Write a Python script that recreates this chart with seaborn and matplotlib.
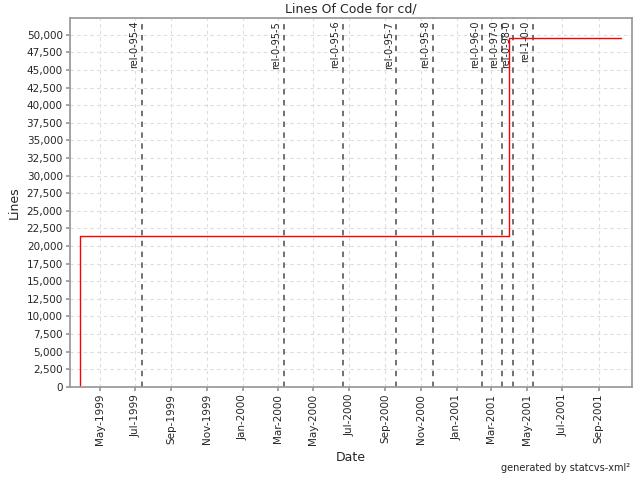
import pandas as pd
import seaborn as sns
import matplotlib
matplotlib.use("Agg")
import matplotlib.pyplot as plt
import matplotlib.dates as mdates
from matplotlib.ticker import FuncFormatter, MultipleLocator

# lines of code over time (step line)
loc_dates = ["1999-03-28", "1999-03-28", "2001-03-31", "2001-03-31", "2001-10-10"]
loc_lines = [0, 21420, 21420, 49600, 49600]

# release tags
tag_names = ["rel-0-95-4", "rel-0-95-5", "rel-0-95-6", "rel-0-95-7", "rel-0-95-8",
             "rel-0-96-0", "rel-0-97-0", "rel-0-98-0", "rel-1-0-0"]
tag_dates = ["1999-07-12", "2000-03-11", "2000-06-20", "2000-09-20", "2000-11-21",
             "2001-02-14", "2001-03-19", "2001-04-08", "2001-05-11"]

df = pd.DataFrame({"date": pd.to_datetime(loc_dates), "lines": loc_lines})

sns.set_theme(style="white")
plt.rcParams['font.family'] = ['DejaVu Sans']

fig = plt.figure(figsize=(6.4, 4.8), dpi=100)
ax = fig.add_axes([0.109, 0.194, 0.8785, 0.7685])

sns.lineplot(data=df, x="date", y="lines", estimator=None, sort=False,
             drawstyle="steps-post", color="red", linewidth=1.0, ax=ax)

for name, d in zip(tag_names, pd.to_datetime(tag_dates)):
    ax.axvline(d, color="#666666", linestyle=(0, (3, 3)), linewidth=1.3, zorder=1)
    ax.annotate(name, xy=(d, 1), xycoords=("data", "axes fraction"),
                xytext=(-1.5, -2), textcoords="offset points",
                rotation=90, ha="right", va="top", fontsize=7, color="#222222")

ax.set_xlim(pd.Timestamp("1999-03-11"), pd.Timestamp("2001-10-28"))
ax.set_ylim(0, 52400)
ax.yaxis.set_major_locator(MultipleLocator(2500))
ax.yaxis.set_major_formatter(FuncFormatter(lambda v, p: f"{v:,.0f}"))
ax.xaxis.set_major_locator(mdates.MonthLocator(bymonth=[1, 3, 5, 7, 9, 11]))
ax.xaxis.set_major_formatter(mdates.DateFormatter("%b-%Y"))

ax.grid(True, color="#dddddd", linestyle=(0, (3, 3)), linewidth=0.8)
ax.set_axisbelow(True)
for s in ax.spines.values():
    s.set_color("#999999")
ax.tick_params(axis="both", which="major", labelsize=7.5, direction="out",
               length=3, color="#999999", left=True, bottom=True, pad=2)
plt.setp(ax.get_xticklabels(), rotation=90)

ax.set_xlabel("Date", fontsize=9)
ax.set_ylabel("Lines", fontsize=9)
ax.set_title("Lines Of Code for cd/", fontsize=9, pad=4)
fig.text(0.985, 0.015, "generated by statcvs-xml²", ha="right", va="bottom", fontsize=7)

fig.savefig("out.png", dpi=100)
